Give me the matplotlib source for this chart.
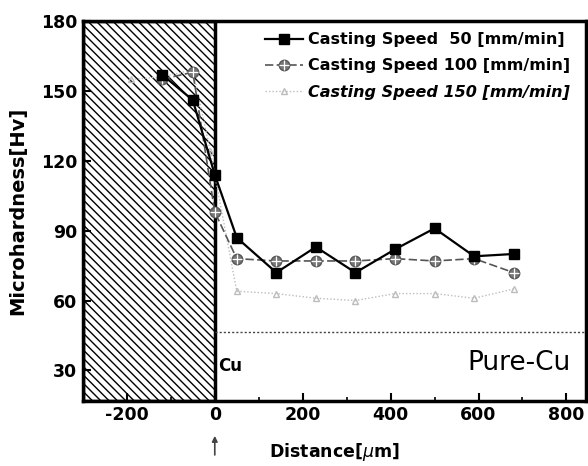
import matplotlib
matplotlib.use("Agg")
import matplotlib.pyplot as plt
from matplotlib.patches import Rectangle
from matplotlib.ticker import MultipleLocator

# ---- data ----
x50 = [-120, -50, 0, 50, 140, 230, 320, 410, 500, 590, 680]
y50 = [157, 146, 114, 87, 72, 83, 72, 82, 91, 79, 80]

x100 = [-120, -50, 0, 50, 140, 230, 320, 410, 500, 590, 680]
y100 = [155, 158, 98, 78, 77, 77, 77, 78, 77, 78, 72]

x150 = [-190, -120, -50, -10, 50, 140, 230, 320, 410, 500, 590, 680]
y150 = [155, 156, 159, 124, 64, 63, 61, 60, 63, 63, 61, 65]

labels = ["Casting Speed  50 [mm/min]",
          "Casting Speed 100 [mm/min]",
          "Casting Speed 150 [mm/min]"]
xticks = [-200, 0, 200, 400, 600, 800]
yticks = [30, 60, 90, 120, 150, 180]
interface_level = 46.5

plt.rcParams['hatch.linewidth'] = 1.0
plt.rcParams['axes.unicode_minus'] = False
fig = plt.figure(figsize=(5.88, 4.66), dpi=100)
ax = fig.add_axes([0.141, 0.14, 0.856, 0.815])

ax.set_xlim(-300, 845)
ax.set_ylim(17, 180)

# hatched region
ax.add_patch(Rectangle((-300, 17), 300, 163, facecolor='white', edgecolor='black',
                       hatch='\\\\\\\\', linewidth=2.5, zorder=1))

# interface dotted line
ax.plot([0, 845], [interface_level, interface_level], linestyle=(0, (1.5, 1.5)),
        color='#444444', linewidth=1.0, zorder=2)

l150, = ax.plot(x150, y150, linestyle=(0, (1, 1.5)), color='#bdbdbd', linewidth=1.0,
                marker='^', markersize=4, markerfacecolor='none',
                markeredgecolor='#bdbdbd', zorder=3)
l100, = ax.plot(x100, y100, linestyle=(0, (5, 2)), color='#555555', linewidth=1.2,
                marker='o', markersize=7.5, markerfacecolor='#777777',
                markeredgecolor='#555555', zorder=4)
p100, = ax.plot(x100, y100, linestyle='none', marker='+', markersize=7.5,
                markeredgecolor='white', markeredgewidth=0.9, zorder=5)
l50, = ax.plot(x50, y50, linestyle='-', color='black', linewidth=1.6,
               marker='s', markersize=7.5, markerfacecolor='black',
               markeredgecolor='black', zorder=6)

leg = ax.legend([l50, (l100, p100), l150], labels, loc='upper right',
                bbox_to_anchor=(0.99, 1.0), frameon=False,
                prop={'weight': 'bold', 'size': 11.5}, handlelength=2.4,
                handletextpad=0.3, labelspacing=0.7, borderaxespad=0.3)
leg.get_texts()[2].set_style('italic')

ax.text(8, 32, "Cu", fontsize=12, fontweight='bold', ha='left', va='center')
ax.text(810, 33, "Pure-Cu", fontsize=19, ha='right', va='center')

ax.set_xticks(xticks)
ax.set_yticks(yticks)
ax.xaxis.set_minor_locator(MultipleLocator(100))
ax.tick_params(which='both', direction='in', top=False, right=False)
ax.tick_params(which='major', length=6, width=1.5, labelsize=12.5, pad=4)
ax.tick_params(which='minor', length=3, width=1.2)
for lab in ax.get_xticklabels() + ax.get_yticklabels():
    lab.set_fontweight('bold')

for s in ax.spines.values():
    s.set_linewidth(2.5)

ax.set_ylabel("Microhardness[Hv]", fontsize=14, fontweight='bold', labelpad=10)
ax.set_xlabel("Distance[$\\mu$m]", fontsize=12.5, fontweight='bold', labelpad=12)

# arrow under x=0
ax.annotate("", xy=(0, -0.085), xytext=(0, -0.15),
            xycoords=('data', 'axes fraction'), textcoords=('data', 'axes fraction'),
            arrowprops=dict(arrowstyle='-|>', color='#444444', lw=1.2,
                            mutation_scale=8))

fig.savefig("out.png", dpi=100)
